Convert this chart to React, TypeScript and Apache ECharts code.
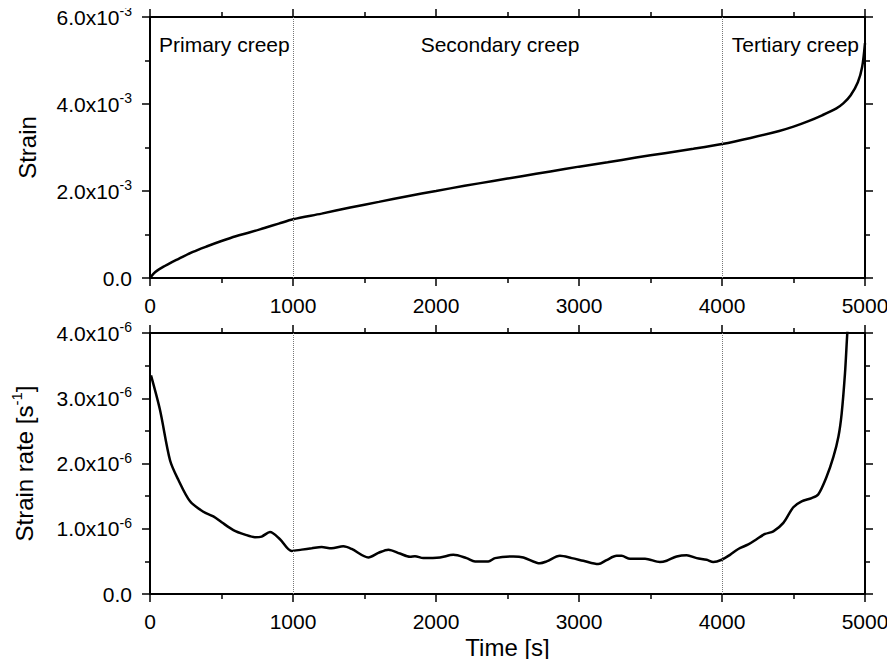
import React, { useEffect, useRef } from "react";
import * as echarts from "echarts";

// Time axis (s)
const xTicks = [0, 1000, 2000, 3000, 4000, 5000];
const phaseBoundaries = [1000, 4000];
const phaseLabels = ["Primary creep", "Secondary creep", "Tertiary creep"];

// Strain vs time
const strainTime = [0, 25, 50, 100, 150, 200, 300, 400, 500, 600, 700, 800, 900, 1000, 1200, 1400, 1600, 1800, 2000, 2200, 2400, 2600, 2800, 3000, 3200, 3400, 3600, 3800, 4000, 4200, 4400, 4500, 4600, 4700, 4800, 4850, 4900, 4950, 4980, 5000];
const strainValues = [0, 0.1e-3, 0.17e-3, 0.27e-3, 0.36e-3, 0.44e-3, 0.6e-3, 0.73e-3, 0.85e-3, 0.96e-3, 1.05e-3, 1.15e-3, 1.25e-3, 1.35e-3, 1.48e-3, 1.62e-3, 1.75e-3, 1.88e-3, 2.0e-3, 2.12e-3, 2.23e-3, 2.34e-3, 2.45e-3, 2.56e-3, 2.66e-3, 2.77e-3, 2.87e-3, 2.97e-3, 3.08e-3, 3.22e-3, 3.38e-3, 3.48e-3, 3.6e-3, 3.74e-3, 3.9e-3, 4.02e-3, 4.2e-3, 4.5e-3, 4.85e-3, 5.4e-3];

// Strain rate vs time
const rateTime = [7, 70, 140, 198, 280, 373, 443, 501, 583, 664, 734, 781, 839, 909, 991, 1061, 1131, 1200, 1270, 1352, 1410, 1527, 1597, 1667, 1748, 1818, 1853, 1911, 2028, 2121, 2214, 2273, 2366, 2413, 2541, 2611, 2727, 2774, 2867, 2949, 3030, 3135, 3193, 3263, 3298, 3357, 3462, 3566, 3613, 3683, 3753, 3823, 3893, 3939, 3998, 4056, 4114, 4184, 4242, 4301, 4359, 4429, 4499, 4557, 4627, 4674, 4732, 4779, 4814, 4837, 4860, 4876, 4895];
const rateValues = [3.35e-6, 2.82e-6, 2.05e-6, 1.75e-6, 1.42e-6, 1.26e-6, 1.19e-6, 1.1e-6, 0.98e-6, 0.91e-6, 0.87e-6, 0.88e-6, 0.95e-6, 0.84e-6, 0.66e-6, 0.68e-6, 0.7e-6, 0.72e-6, 0.7e-6, 0.73e-6, 0.69e-6, 0.56e-6, 0.63e-6, 0.68e-6, 0.62e-6, 0.57e-6, 0.58e-6, 0.55e-6, 0.56e-6, 0.6e-6, 0.55e-6, 0.5e-6, 0.5e-6, 0.55e-6, 0.575e-6, 0.56e-6, 0.47e-6, 0.5e-6, 0.585e-6, 0.55e-6, 0.51e-6, 0.46e-6, 0.52e-6, 0.585e-6, 0.585e-6, 0.54e-6, 0.54e-6, 0.49e-6, 0.51e-6, 0.575e-6, 0.595e-6, 0.55e-6, 0.525e-6, 0.49e-6, 0.525e-6, 0.6e-6, 0.69e-6, 0.76e-6, 0.84e-6, 0.92e-6, 0.96e-6, 1.09e-6, 1.33e-6, 1.42e-6, 1.47e-6, 1.53e-6, 1.8e-6, 2.1e-6, 2.41e-6, 2.77e-6, 3.38e-6, 3.99e-6, 4.6e-6];

const FONT = "'Liberation Sans', Arial, Helvetica, sans-serif";

const richTick = {
  m: { fontSize: 21, lineHeight: 26, fontFamily: FONT, color: "#000" },
  s: { fontSize: 14, lineHeight: 12, verticalAlign: "top", fontFamily: FONT, color: "#000" },
};

const sciFormatter = (exp: number) => (v: number) => {
  if (v === 0) return "{m|0.0}";
  const mant = (v / Math.pow(10, exp)).toFixed(1);
  return `{m|${mant}x10}{s|${exp}}`;
};

export default function App() {
  const ref = useRef<HTMLDivElement>(null);
  useEffect(() => {
    if (!ref.current) return;
    const chart = echarts.init(ref.current, null, { renderer: "svg" });

    const axisLine = { show: true, onZero: false, lineStyle: { color: "#000", width: 2 } };
    const majorTick = { show: true, length: 8, lineStyle: { color: "#000", width: 1.5 } };
    const minorTick = { show: true, splitNumber: 2, length: 5, lineStyle: { color: "#000", width: 1.5 } };

    const xBase = (gridIndex: number, position: string, labels: boolean, name?: string) => ({
      type: "value",
      gridIndex,
      position,
      min: xTicks[0],
      max: xTicks[xTicks.length - 1],
      interval: xTicks[1] - xTicks[0],
      axisLine,
      axisTick: majorTick,
      minorTick,
      splitLine: { show: false },
      axisLabel: labels
        ? { show: true, fontSize: 21, fontFamily: FONT, color: "#000", margin: 17, formatter: (v: number) => String(v) }
        : { show: false },
      name,
      nameLocation: "middle",
      nameGap: 41,
      nameTextStyle: { fontSize: 24, fontFamily: FONT, color: "#000" },
    });

    const yBase = (gridIndex: number, position: string, max: number, interval: number, exp: number, labels: boolean, name?: string, nameRich?: any) => ({
      type: "value",
      gridIndex,
      position,
      min: 0,
      max,
      interval,
      axisLine,
      axisTick: majorTick,
      minorTick,
      splitLine: { show: false },
      axisLabel: labels
        ? { show: true, margin: 18, formatter: sciFormatter(exp), rich: richTick }
        : { show: false },
      name,
      nameLocation: "middle",
      nameGap: 111,
      nameTextStyle: { fontSize: 24, fontFamily: FONT, color: "#000", rich: nameRich },
    });

    const vLines = {
      symbol: "none",
      silent: true,
      label: { show: false },
      lineStyle: { color: "#777", width: 1, type: "dotted" },
      data: phaseBoundaries.map((x) => ({ xAxis: x })),
    };

    const textStyle = (text: string, align: string) => ({
      text,
      fontSize: 21,
      fontFamily: FONT,
      fill: "#000",
      textAlign: align,
      textVerticalAlign: "middle",
      verticalAlign: "middle",
    });

    const option: any = {
      animation: false,
      backgroundColor: "#fff",
      grid: [
        { left: 150, right: 30, top: 17, height: 261 },
        { left: 150, right: 30, top: 333, height: 261 },
      ],
      xAxis: [
        xBase(0, "bottom", true),
        xBase(0, "top", false),
        xBase(1, "bottom", true, "Time [s]"),
        xBase(1, "top", false),
      ],
      yAxis: [
        yBase(0, "left", 6e-3, 2e-3, -3, true, "Strain"),
        yBase(0, "right", 6e-3, 2e-3, -3, false),
        yBase(1, "left", 4e-6, 1e-6, -6, true, "{m|Strain rate [s}{s|-1}{m|]}", {
          m: { fontSize: 24, lineHeight: 30, fontFamily: FONT, color: "#000" },
          s: { fontSize: 15, lineHeight: 14, verticalAlign: "top", fontFamily: FONT, color: "#000" },
        }),
        yBase(1, "right", 4e-6, 1e-6, -6, false),
      ],
      series: [
        {
          type: "line",
          xAxisIndex: 0,
          yAxisIndex: 0,
          data: strainTime.map((t, i) => [t, strainValues[i]]),
          showSymbol: false,
          smooth: 0.3,
          clip: true,
          lineStyle: { color: "#000", width: 2.5 },
          markLine: vLines,
        },
        {
          type: "line",
          xAxisIndex: 2,
          yAxisIndex: 2,
          data: rateTime.map((t, i) => [t, rateValues[i]]),
          showSymbol: false,
          smooth: 0.3,
          clip: true,
          lineStyle: { color: "#000", width: 2.5 },
          markLine: vLines,
        },
      ],
      graphic: [
        { type: "text", x: 159, y: 44, style: textStyle(phaseLabels[0], "left") },
        { type: "text", x: 500, y: 44, style: textStyle(phaseLabels[1], "center") },
        { type: "text", x: 859, y: 44, style: textStyle(phaseLabels[2], "right") },
      ],
    };
    chart.setOption(option);
    return () => chart.dispose();
  }, []);

  return <div ref={ref} style={{ width: 895, height: 667, margin: -8 }} />;
}
